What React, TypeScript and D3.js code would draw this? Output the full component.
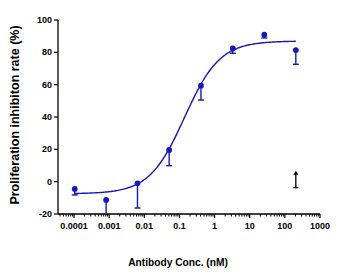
import React from 'react';
import * as d3 from 'd3';

// antibody concentrations (nM), 8-fold dilution series
const doses = [0.000105, 0.00082, 0.0064, 0.051, 0.41, 3.3, 26, 205];
const inhibition = [-4.5, -11.3, -1.0, 19.6, 59.4, 82.5, 90.9, 81.4];
const errLow = [3.7, 12.5, 15.3, 9.7, 8.9, 3.1, 2.0, 8.8];

// 4PL fit
const fitBottom = -7.5;
const fitTop = 87;
const fitLogEC50 = -0.855;
const fitHill = 0.865;

// black arrow marker near the top dose
const arrowDose = 205;
const arrowFrom = -3.7;
const arrowTo = 6.8;

const yTicks = [-20, 0, 20, 40, 60, 80, 100];
const xTicks = [0.0001, 0.001, 0.01, 0.1, 1, 10, 100, 1000];
const xTickLabels = ['0.0001', '0.001', '0.01', '0.1', '1', '10', '100', '1000'];

const W = 350, H = 280;
const margin = { left: 58, right: 30, top: 20, bottom: 66 };
const BLUE = '#1616c4';
const FONT = '"Liberation Sans", Arial, sans-serif';

const logistic = (logX: number) =>
    fitBottom + (fitTop - fitBottom) / (1 + Math.pow(10, (fitLogEC50 - logX) * fitHill));

const App = () => {
    const x = d3.scaleLog().domain([3.5e-5, 1000]).range([margin.left, W - margin.right]);
    const y = d3.scaleLinear().domain([-20, 100]).range([H - margin.bottom, margin.top]);

    const minorTicks: number[] = [];
    for (let e = -5; e < 3; e++) {
        for (let m = 2; m <= 9; m++) {
            const v = m * Math.pow(10, e);
            if (v >= 3.5e-5 && v <= 1000) minorTicks.push(v);
        }
    }

    const lo = Math.log10(doses[0]), hi = Math.log10(doses[doses.length - 1]);
    const curvePts = d3.range(0, 201).map(i => lo + (hi - lo) * i / 200);
    const line = d3.line<number>()
        .x(l => x(Math.pow(10, l)))
        .y(l => y(logistic(l)));

    const axisY = H - margin.bottom;
    const ax = arrowDose;

    return (
        <svg width={W} height={H} style={{ position: 'absolute', left: 0, top: 0, background: '#fff' }}
             fontFamily={FONT}>
            {/* y axis */}
            <line x1={margin.left} x2={margin.left} y1={y(100)} y2={axisY} stroke="#000" strokeWidth={1.3} />
            {yTicks.map(t => (
                <g key={t}>
                    <line x1={margin.left - 4} x2={margin.left} y1={y(t)} y2={y(t)} stroke="#000" strokeWidth={1.2} />
                    <text x={margin.left - 6} y={y(t)} dy="0.35em" textAnchor="end" fontSize={9} fontWeight="bold">{t}</text>
                </g>
            ))}
            {/* x axis */}
            <line x1={margin.left} x2={x(1000)} y1={axisY} y2={axisY} stroke="#000" strokeWidth={1.3} />
            {minorTicks.map((t, i) => (
                <line key={'m' + i} x1={x(t)} x2={x(t)} y1={axisY} y2={axisY + 2.5} stroke="#000" strokeWidth={1} />
            ))}
            {xTicks.map((t, i) => (
                <g key={t}>
                    <line x1={x(t)} x2={x(t)} y1={axisY} y2={axisY + 4} stroke="#000" strokeWidth={1.2} />
                    <text x={x(t)} y={axisY + 15} textAnchor="middle" fontSize={9} fontWeight="bold">{xTickLabels[i]}</text>
                </g>
            ))}
            {/* fitted curve */}
            <path d={line(curvePts) || ''} fill="none" stroke={BLUE} strokeWidth={1.4} />
            {/* error bars and points */}
            {doses.map((d, i) => {
                const yb = y(Math.max(-20, inhibition[i] - errLow[i]));
                const clipped = inhibition[i] - errLow[i] < -20;
                return (
                    <g key={'p' + i}>
                        <line x1={x(d)} x2={x(d)} y1={y(inhibition[i])} y2={yb} stroke={BLUE} strokeWidth={1.4} />
                        {!clipped && <line x1={x(d) - 3} x2={x(d) + 3} y1={yb} y2={yb} stroke={BLUE} strokeWidth={1.4} />}
                        <circle cx={x(d)} cy={y(inhibition[i])} r={2.9} fill={BLUE} />
                    </g>
                );
            })}
            {/* arrow */}
            <line x1={x(ax)} x2={x(ax)} y1={y(arrowTo) + 3} y2={y(arrowFrom)} stroke="#000" strokeWidth={1.3} />
            <line x1={x(ax) - 2.5} x2={x(ax) + 2.5} y1={y(arrowFrom)} y2={y(arrowFrom)} stroke="#000" strokeWidth={1.3} />
            <path d={`M${x(ax)},${y(arrowTo)} L${x(ax) - 2.5},${y(arrowTo) + 4} L${x(ax) + 2.5},${y(arrowTo) + 4} Z`} fill="#000" />
            {/* titles */}
            <text transform={`translate(19,${(y(100) + axisY) / 2 - 2}) rotate(-90)`} textAnchor="middle"
                  fontSize={12.5} fontWeight="bold">Proliferation inhibiton rate (%)</text>
            <text x={178} y={266} textAnchor="middle" fontSize={10.2} fontWeight="bold">Antibody Conc. (nM)</text>
        </svg>
    );
};

export default App;
